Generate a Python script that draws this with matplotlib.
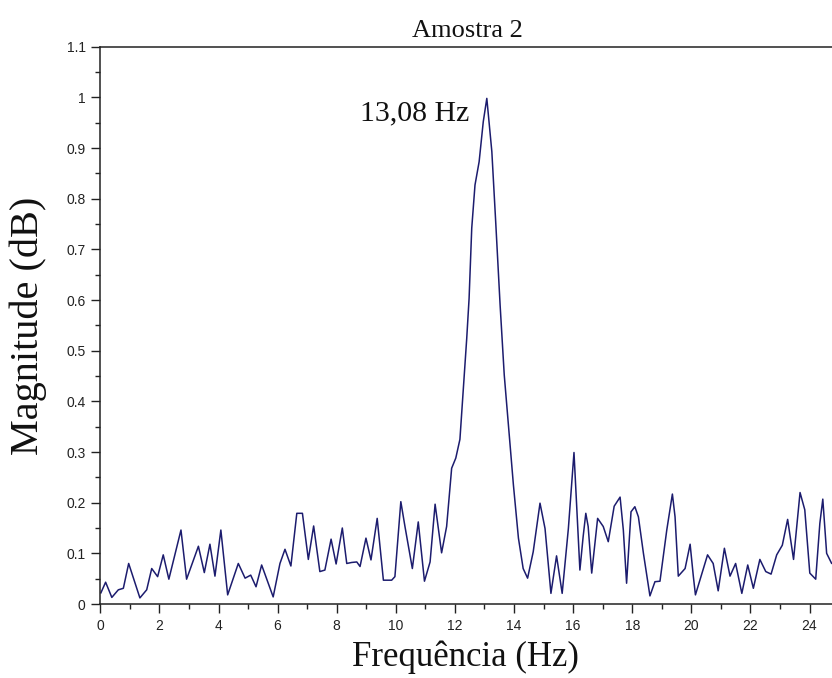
import matplotlib
matplotlib.use("Agg")
import matplotlib.pyplot as plt
from matplotlib.ticker import MultipleLocator

# ---- data ----
freq = [0.02, 0.18, 0.39, 0.61, 0.78, 0.96, 1.34, 1.57, 1.74, 1.94, 2.13, 2.32, 2.73, 2.92,
        3.32, 3.52, 3.71, 3.88, 4.08, 4.31, 4.67, 4.90, 5.09, 5.27, 5.46, 5.85, 6.08, 6.25,
        6.45, 6.65, 6.84, 7.04, 7.22, 7.43, 7.60, 7.81, 7.98, 8.19, 8.34, 8.51, 8.68, 8.79,
        8.99, 9.16, 9.37, 9.58, 9.86, 9.97, 10.17, 10.31, 10.56, 10.76, 10.97, 11.16, 11.33,
        11.55, 11.72, 11.89, 12.03, 12.17, 12.28, 12.40, 12.48, 12.57, 12.68, 12.82, 12.96,
        13.08, 13.25, 13.38, 13.53, 13.67, 13.81, 13.98, 14.15, 14.31, 14.46, 14.65, 14.88,
        15.05, 15.25, 15.44, 15.63, 15.84, 16.03, 16.18, 16.23, 16.34, 16.43, 16.51, 16.63,
        16.83, 17.02, 17.19, 17.39, 17.59, 17.70, 17.81, 17.96, 18.09, 18.21, 18.38, 18.60,
        18.77, 18.94, 19.17, 19.36, 19.45, 19.56, 19.79, 19.96, 20.07, 20.14, 20.55, 20.74,
        20.91, 21.12, 21.31, 21.50, 21.71, 21.91, 22.10, 22.32, 22.52, 22.70, 22.89, 23.08,
        23.26, 23.46, 23.68, 23.84, 24.01, 24.21, 24.35, 24.45, 24.58, 24.75, 24.95]
mag = [0.022, 0.043, 0.013, 0.028, 0.031, 0.080, 0.012, 0.028, 0.070, 0.054, 0.097, 0.049,
       0.146, 0.049, 0.114, 0.062, 0.118, 0.055, 0.146, 0.018, 0.080, 0.051, 0.057, 0.034,
       0.077, 0.014, 0.080, 0.108, 0.075, 0.179, 0.179, 0.088, 0.154, 0.064, 0.067, 0.128,
       0.079, 0.150, 0.080, 0.082, 0.083, 0.074, 0.130, 0.087, 0.169, 0.047, 0.047, 0.054,
       0.202, 0.153, 0.070, 0.162, 0.045, 0.083, 0.197, 0.101, 0.153, 0.268, 0.288, 0.325,
       0.419, 0.524, 0.603, 0.742, 0.827, 0.873, 0.952, 0.998, 0.893, 0.755, 0.590, 0.452,
       0.353, 0.235, 0.130, 0.070, 0.051, 0.103, 0.199, 0.149, 0.021, 0.095, 0.021, 0.149,
       0.299, 0.126, 0.067, 0.133, 0.179, 0.153, 0.061, 0.169, 0.153, 0.123, 0.193, 0.211,
       0.146, 0.041, 0.182, 0.192, 0.172, 0.100, 0.016, 0.044, 0.045, 0.146, 0.217, 0.172,
       0.055, 0.070, 0.118, 0.054, 0.018, 0.097, 0.080, 0.026, 0.110, 0.055, 0.080, 0.021,
       0.077, 0.031, 0.088, 0.064, 0.059, 0.097, 0.116, 0.167, 0.088, 0.220, 0.186, 0.061,
       0.049, 0.159, 0.207, 0.100, 0.080, 0.085]

peak_freq = 13.08
peak_label = "13,08 Hz"

title = "Amostra 2"
xlabel = "Frequência (Hz)"
ylabel = "Magnitude (dB)"
xticks = list(range(0, 25, 2))
yticks = [0, 0.1, 0.2, 0.3, 0.4, 0.5, 0.6, 0.7, 0.8, 0.9, 1.0, 1.1]
ytick_labels = ["0", "0.1", "0.2", "0.3", "0.4", "0.5", "0.6", "0.7", "0.8", "0.9", "1", "1.1"]

# ---- figure ----
fig = plt.figure(figsize=(8.32, 6.78), dpi=100)
L, B = 100.3 / 832, 74 / 678
H = (604 - 46.7) / 678
W = 25 * 29.55 / 832
ax = fig.add_axes([L, B, W, H])

ax.plot(freq, mag, color="#1c1c6e", lw=1.1)

ax.set_xlim(0, 25)
ax.set_ylim(0, 1.1)
ax.set_xticks(xticks)
ax.set_xticklabels([str(t) for t in xticks])
ax.set_yticks(yticks)
ax.set_yticklabels(ytick_labels)
ax.xaxis.set_minor_locator(MultipleLocator(1))
ax.yaxis.set_minor_locator(MultipleLocator(0.05))

for s in ("left", "bottom", "top"):
    ax.spines[s].set_linewidth(1.1)
    ax.spines[s].set_color("#222222")
ax.spines["right"].set_visible(False)

ax.tick_params(which="major", direction="out", length=6.5, width=1.0, color="#222222",
               labelsize=10, pad=4, top=False, right=False)
ax.tick_params(which="minor", direction="out", length=3.5, width=1.0, color="#222222",
               top=False, right=False)
for lab in ax.get_xticklabels() + ax.get_yticklabels():
    lab.set_family("Liberation Sans")
    lab.set_color("#222222")

serif = "Liberation Serif"
fig.text(467 / 832, 1 - 31 / 678, title, ha="center", va="center",
         family=serif, fontsize=19, color="#111111")
fig.text(465 / 832, 1 - 657 / 678, xlabel, ha="center", va="center",
         family=serif, fontsize=25, color="#111111")
fig.text(28 / 832, 1 - 326 / 678, ylabel, ha="center", va="center", rotation=90,
         family=serif, fontsize=29, color="#111111")
ax.text(peak_freq - 0.6, 0.955, peak_label, ha="right", va="baseline",
        family=serif, fontsize=21.5, color="#111111")

fig.savefig("out.png", dpi=100)
